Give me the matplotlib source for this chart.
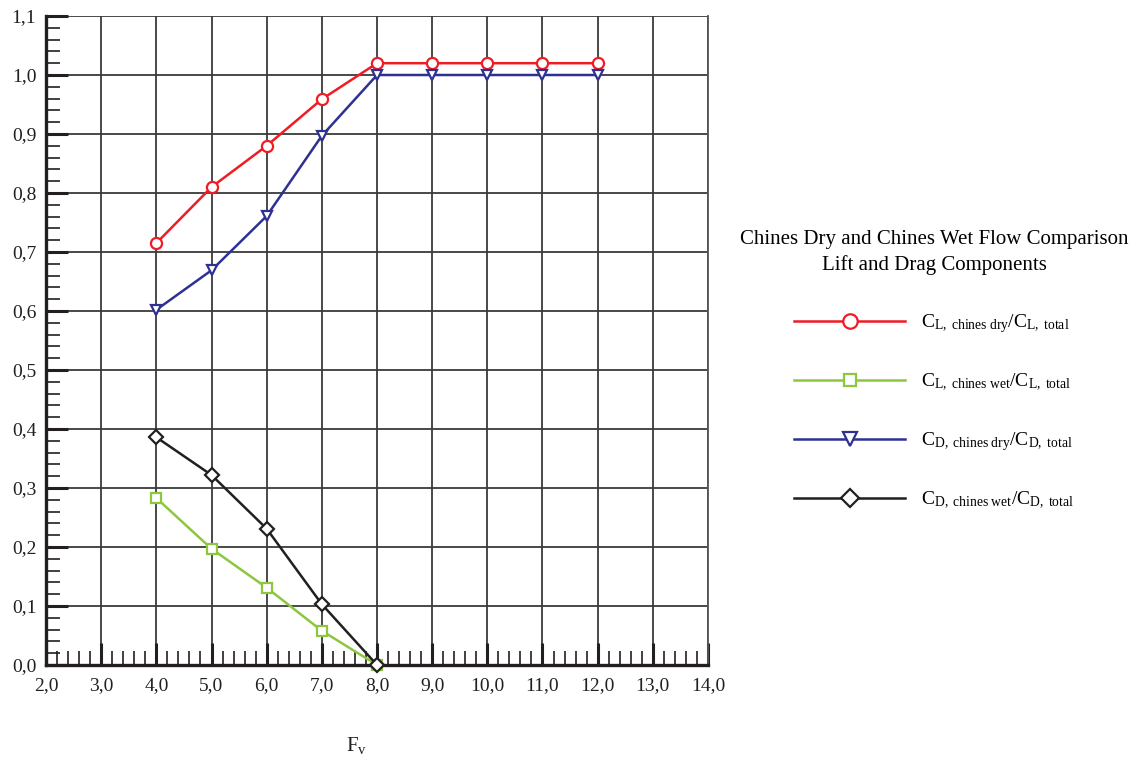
import matplotlib
matplotlib.use("Agg")
import matplotlib.pyplot as plt
from matplotlib.ticker import MultipleLocator, FuncFormatter

plt.rcParams['font.family'] = ['Liberation Serif', 'DejaVu Serif']
plt.rcParams['mathtext.fontset'] = 'custom'
plt.rcParams['mathtext.rm'] = 'Liberation Serif'
plt.rcParams['mathtext.it'] = 'Liberation Serif:italic'

# Data
fv = [4, 5, 6, 7, 8, 9, 10, 11, 12]
cl_dry = [0.715, 0.810, 0.880, 0.959, 1.020, 1.020, 1.020, 1.020, 1.020]
cd_dry = [0.602, 0.669, 0.761, 0.897, 1.0, 1.0, 1.0, 1.0, 1.0]
fv_wet = [4, 5, 6, 7, 8]
cl_wet = [0.283, 0.197, 0.131, 0.058, 0.0]
cd_wet = [0.386, 0.322, 0.231, 0.103, 0.0]

labels = [r'$\mathrm{C_{L,\ chines\ dry}/C_{L,\ total}}$',
          r'$\mathrm{C_{L,\ chines\ wet}/C_{L,\ total}}$',
          r'$\mathrm{C_{D,\ chines\ dry}/C_{D,\ total}}$',
          r'$\mathrm{C_{D,\ chines\ wet}/C_{D,\ total}}$']
title = "Chines Dry and Chines Wet Flow Comparison\nLift and Drag Components"

red = '#EE1C25'
green = '#8DC63F'
blue = '#2E3192'
black = '#231F20'

fig = plt.figure(figsize=(11.29, 7.63), dpi=100)
ax = fig.add_axes([46/1129, 1-665/763, (708-46)/1129, (665-16)/763])

lw = 1.8
mew = 1.6
h1, = ax.plot(fv, cl_dry, color=red, lw=lw, marker='o', ms=8, mfc='white', mec=red, mew=mew, clip_on=False, zorder=5)
h2, = ax.plot(fv_wet, cl_wet, color=green, lw=lw, marker='s', ms=7, mfc='white', mec=green, mew=mew, clip_on=False, zorder=5)
h3, = ax.plot(fv, cd_dry, color=blue, lw=lw, marker='v', ms=7.5, mfc='white', mec=blue, mew=mew, clip_on=False, zorder=5)
h4, = ax.plot(fv_wet, cd_wet, color=black, lw=lw, marker='D', ms=7, mfc='white', mec=black, mew=mew, clip_on=False, zorder=6)

ax.set_xlim(2, 14)
ax.set_ylim(0, 1.1)
ax.xaxis.set_major_locator(MultipleLocator(1))
ax.xaxis.set_minor_locator(MultipleLocator(0.2))
ax.yaxis.set_major_locator(MultipleLocator(0.1))
ax.yaxis.set_minor_locator(MultipleLocator(0.02))
fmt = FuncFormatter(lambda v, p: f"{v:.1f}".replace('.', ','))
ax.xaxis.set_major_formatter(fmt)
ax.yaxis.set_major_formatter(fmt)

ax.grid(True, which='major', color='#3a3a3a', lw=1.3)
ax.set_axisbelow(True)

ax.spines['top'].set_visible(False)
ax.spines['right'].set_color('#555555')
ax.spines['right'].set_linewidth(1.3)
ax.spines['left'].set_linewidth(2.4)
ax.spines['bottom'].set_linewidth(2.4)
ax.spines['left'].set_color('#231F20')
ax.spines['bottom'].set_color('#231F20')

ax.tick_params(which='major', direction='in', length=16, width=2.2, color='#231F20',
               labelsize=14, pad=7, labelcolor='#231F20')
ax.tick_params(which='minor', direction='in', length=10, width=1.2, color='#231F20')
ax.tick_params(axis='x', which='major', pad=9)

fig.text(357/1129, 1-745/763, r'$\mathrm{F_v}$', fontsize=15, ha='center', va='center', color='#231F20')

leg = fig.legend([h1, h2, h3, h4], labels, loc='center', bbox_to_anchor=(934/1129, 1-370.5/763),
                 frameon=False, fontsize=14, title=title, title_fontsize=15,
                 handlelength=5.7, handletextpad=0.8, labelspacing=1.9, markerscale=1.3)
leg.get_title().set_multialignment('center')
leg.get_title().set_linespacing(1.4)
leg._legend_box.sep = 27

fig.savefig('out.png', dpi=100)
